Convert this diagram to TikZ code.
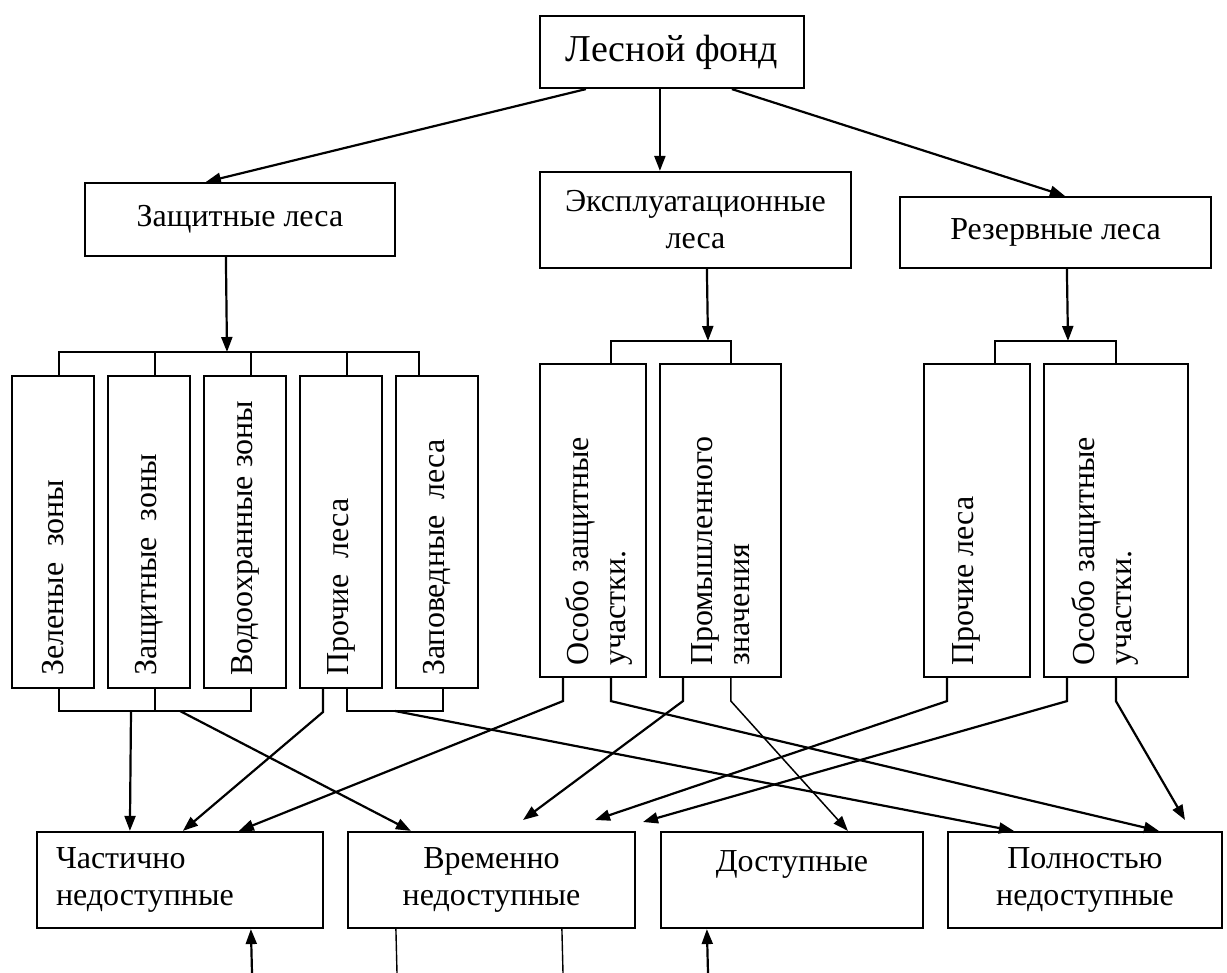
\documentclass[tikz,border=0pt]{standalone}
\usepackage{fontspec}
\setmainfont{Liberation Serif}
\usetikzlibrary{arrows.meta}
\begin{document}
\begin{tikzpicture}[x=1pt,y=-1pt,
  box/.style={draw, line width=2.2pt, inner sep=0pt, align=center, font=\fontsize{32}{37}\selectfont},
  vtxt/.style={rotate=90, anchor=west, inner sep=0pt, align=left, font=\fontsize{32}{37}\selectfont},
  ln/.style={line width=2.2pt},
  lnthin/.style={line width=1.4pt},
  arr/.style={line width=2.2pt, -{Triangle[length=15pt,width=11pt]}},
  arrthin/.style={line width=1.5pt, -{Triangle[length=15pt,width=11pt]}},
]
\useasboundingbox (0,0) rectangle (1227,973);

% top level
\node[box, font=\fontsize{38}{44}\selectfont, minimum width=264pt, minimum height=72pt] (lf) at (672,52) {Лесной фонд};
\node[box, minimum width=310pt, minimum height=73pt] (zl) at (240,219.5) {Защитные леса};
\node[box, minimum width=311pt, minimum height=96pt] (el) at (695.5,220) {Эксплуатационные\\леса};
\node[box, minimum width=311pt, minimum height=71pt] (rl) at (1055.5,232.5) {Резервные леса};

% vertical boxes
\foreach \n/\x in {v1/53, v2/149, v3/245, v4/341, v5/437}
  \node[box, minimum width=82pt, minimum height=312pt] (\n) at (\x,532) {};
\node[box, minimum width=106pt, minimum height=313pt] (vA) at (593,520.5) {};
\node[box, minimum width=121pt, minimum height=313pt] (vB) at (720.5,520.5) {};
\node[box, minimum width=106pt, minimum height=313pt] (vC) at (977,520.5) {};
\node[box, minimum width=144pt, minimum height=313pt] (vD) at (1116,520.5) {};

\node[vtxt] (t1) at ([yshift=13pt]v1.south) {Зеленые\ \ зоны};
\node[vtxt] (t2) at ([yshift=13pt]v2.south) {Защитные\ \ зоны};
\node[vtxt] (t3) at ([yshift=13pt]v3.south) {Водоохранные зоны};
\node[vtxt] (t4) at ([yshift=13pt]v4.south) {Прочие\ \ леса};
\node[vtxt] (t5) at ([yshift=13pt]v5.south) {Заповедные\ \ леса};
\node[vtxt] (tA) at ([xshift=6pt,yshift=12pt]vA.south) {Особо защитные\\участки.};
\node[vtxt] (tB) at ([yshift=12pt]vB.south) {Промышленного\\значения};
\node[vtxt] (tC) at ([xshift=-11pt,yshift=12pt]vC.south) {Прочие леса};
\node[vtxt] (tD) at ([xshift=-11pt,yshift=12pt]vD.south) {Особо защитные\\участки.};

% bottom boxes
\node[box, text width=248pt, inner xsep=19pt, align=left, minimum height=96pt] (b1) at (180,880) {Частично\\недоступные};
\node[box, minimum width=287pt, minimum height=96pt] (b2) at (491.5,880) {Временно\\недоступные};
\node[box, minimum width=262pt, minimum height=96pt] (b3) at (792,880) {Доступные\\\mbox{}};
\node[box, minimum width=274pt, minimum height=96pt] (b4) at (1085,880) {Полностью\\недоступные};

% top arrows
\draw[arr] ([xshift=47pt]lf.south west) -- ([xshift=122pt]zl.north west);
\draw[arr] ([xshift=121pt]lf.south west) -- ([xshift=121pt]el.north west);
\draw[arr] ([xshift=193pt]lf.south west) -- ([xshift=166pt]rl.north west);

% brackets above vertical boxes
\coordinate (zb) at (227,352);
\draw[arr] ([xshift=142pt]zl.south west) -- (zb);
\draw[ln] ([xshift=48pt]v1.north west) |- (zb) -| ([xshift=24pt]v5.north west);
\foreach \n in {v2,v3,v4}
  \draw[ln] ([xshift=48pt]\n.north west) -- ++(0,-24);

\coordinate (eb) at (708,341);
\draw[arr] ([xshift=168pt]el.south west) -- (eb);
\draw[ln] ([xshift=72pt]vA.north west) |- (eb) -| ([xshift=72pt]vB.north west);

\coordinate (rb) at (1068,341);
\draw[arr] ([xshift=168pt]rl.south west) -- (rb);
\draw[ln] ([xshift=72pt]vC.north west) |- (rb) -| ([xshift=73pt]vD.north west);

% lower connections
\coordinate (lb) at (131,711);
\coordinate (lb2) at (180,711);
\draw[ln] ([xshift=48pt]v1.south west) |- (lb) -| ([xshift=48pt]v3.south west);
\draw[ln] ([xshift=48pt]v2.south west) -- ++(0,23);
\draw[arr] (lb) -- ([xshift=94pt]b1.north west);
\draw[arr] (lb2) -- ([xshift=64pt]b2.north west);
\draw[arr] ([xshift=24pt]v4.south west) -- ++(0,23) -- ([xshift=147pt]b1.north west);
\coordinate (rb2) at (395,711);
\draw[ln] ([xshift=48pt]v4.south west) |- (rb2) -| ([xshift=48pt]v5.south west);
\draw[arr] (rb2) -- ([xshift=67pt]b4.north west);

\draw[arr] ([xshift=24pt]vA.south west) -- ++(0,23) -- ([xshift=203pt]b1.north west);
\draw[arr] ([xshift=72pt]vA.south west) -- ++(0,23) -- ([xshift=212pt]b4.north west);
\coordinate (f1) at (523,820);
\draw[arr] ([xshift=24pt]vB.south west) -- ++(0,23) -- (f1);
\draw[arrthin] ([xshift=72pt]vB.south west) -- ++(0,23) -- ([xshift=188pt]b3.north west);
\coordinate (f2) at (595,820);
\draw[arr] ([xshift=24pt]vC.south west) -- ++(0,23) -- (f2);
\coordinate (f3) at (643,822);
\draw[arr] ([xshift=24pt]vD.south west) -- ++(0,23) -- (f3);
\coordinate (f4) at (1185,820);
\draw[arr] ([xshift=73pt]vD.south west) -- ++(0,23) -- (f4);

% bottom stubs
\coordinate (g1) at (252,973);
\draw[arr] (g1) -- ([xshift=215pt]b1.south west);
\coordinate (g2) at (397,973);
\draw[lnthin] ([xshift=49pt]b2.south west) -- (g2);
\coordinate (g3) at (563,973);
\draw[lnthin] ([xshift=215pt]b2.south west) -- (g3);
\coordinate (g4) at (708,973);
\draw[arr] (g4) -- ([xshift=47pt]b3.south west);
\end{tikzpicture}
\end{document}
